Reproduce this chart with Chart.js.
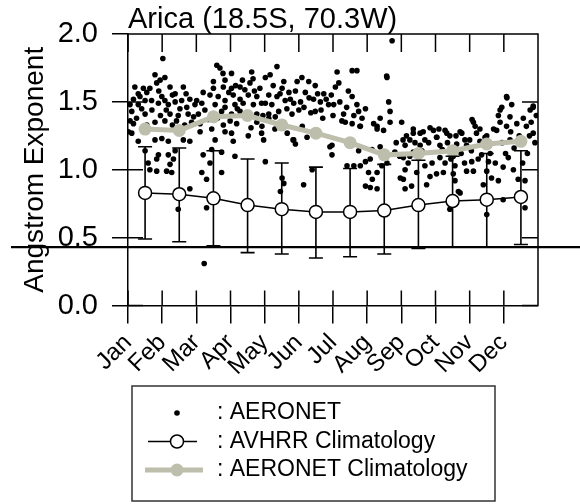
<!DOCTYPE html>
<html>
<head>
<meta charset="utf-8">
<script src="https://cdn.jsdelivr.net/npm/chart.js@4.4.1/dist/chart.umd.min.js"></script>
<style>
  html, body { margin: 0; padding: 0; background: #fff; }
</style>
</head>
<body>
<canvas id="myChart" width="580" height="504"></canvas>
<script>
// monthly climatologies are plotted at mid-month (0 = start of Jan)
const months = ['Jan', 'Feb', 'Mar', 'Apr', 'May', 'Jun', 'Jul', 'Aug', 'Sep', 'Oct', 'Nov', 'Dec'];
const climMonth = [0.5, 1.5, 2.5, 3.5, 4.5, 5.5, 6.5, 7.5, 8.5, 9.5, 10.5, 11.5];
const yTicks = [0, 0.5, 1.0, 1.5, 2.0];

const avhrrMean = [0.83, 0.82, 0.79, 0.74, 0.71, 0.69, 0.69, 0.70, 0.74, 0.77, 0.78, 0.80];
const avhrrLow  = [0.49, 0.47, 0.44, 0.39, 0.38, 0.35, 0.36, 0.38, 0.42, 0.43, 0.43, 0.45];
const avhrrHigh = [1.17, 1.16, 1.14, 1.08, 1.05, 1.02, 1.01, 1.04, 1.07, 1.10, 1.12, 1.14];

const aeronetClim = [1.30, 1.29, 1.39, 1.40, 1.33, 1.27, 1.20, 1.11, 1.12, 1.14, 1.19, 1.21];

// individual AERONET observations: [month position, angstrom exponent]
const aeronetObs = [
  [1.02,1.82],[2.60,1.77],[2.69,1.75],[2.78,1.71],[3.03,1.71],[0.79,1.70],[1.08,1.68],[0.94,1.66],
  [0.84,1.64],[3.62,1.72],[3.66,1.67],[3.57,1.64],[2.50,1.65],[2.84,1.66],[2.79,1.61],[0.20,1.61],
  [0.45,1.60],[0.30,1.56],[0.64,1.60],[1.23,1.61],[1.62,1.61],[1.38,1.56],[3.03,1.60],[3.28,1.61],
  [3.42,1.59],[3.86,1.60],[0.16,1.52],[0.35,1.54],[0.50,1.51],[0.69,1.51],[0.99,1.54],[1.08,1.51],
  [1.38,1.50],[1.57,1.51],[1.81,1.52],[2.01,1.51],[2.40,1.55],[2.64,1.54],[2.84,1.51],[3.08,1.55],
  [3.28,1.52],[3.52,1.55],[3.77,1.54],[0.06,1.48],[0.30,1.48],[0.89,1.49],[1.18,1.48],[1.52,1.45],
  [1.72,1.46],[1.96,1.48],[2.16,1.49],[2.55,1.48],[2.84,1.46],[3.13,1.48],[3.37,1.49],[3.67,1.48],
  [3.91,1.49],[0.11,1.43],[0.50,1.41],[1.23,1.41],[1.47,1.40],[1.76,1.41],[2.06,1.41],[2.25,1.44],
  [2.74,1.43],[3.03,1.41],[3.28,1.43],[3.77,1.41],[0.06,1.36],[0.16,1.34],[0.79,1.35],[1.08,1.36],
  [1.86,1.35],[2.11,1.34],[2.79,1.33],[2.99,1.36],[3.18,1.34],[3.77,1.35],[0.01,1.28],[0.11,1.27],
  [2.11,1.28],[2.84,1.28],[3.03,1.27],[3.52,1.25],[3.91,1.27],[0.30,1.21],[0.79,1.22],[0.99,1.23],
  [1.18,1.21],[1.62,1.22],[1.81,1.21],[2.55,1.22],[3.08,1.21],
  [0.50,1.14],[0.89,1.11],[0.59,1.05],[0.84,1.08],[0.64,1.00],[0.84,0.99],[1.13,0.99],[1.28,0.98],
  [1.23,1.04],[1.33,1.08],[1.38,1.14],[1.18,1.11],[1.81,0.86],[1.47,0.71],[2.20,1.11],[2.40,1.05],
  [2.16,0.98],[2.30,0.93],[2.74,1.13],[2.74,0.98],[2.45,1.15],[2.30,0.72],[3.13,1.10],[2.23,0.31],
  [4.36,1.76],[4.02,1.68],[4.16,1.70],[4.56,1.65],[4.51,1.60],[4.71,1.57],[4.12,1.55],[4.36,1.54],
  [4.02,1.49],[4.21,1.48],[4.60,1.51],[4.85,1.49],[4.12,1.41],[4.41,1.43],[4.80,1.41],[5.00,1.44],
  [5.09,1.68],[4.95,1.65],[5.29,1.65],[5.48,1.62],[5.19,1.57],[5.43,1.52],[5.63,1.50],[5.73,1.56],
  [5.48,1.43],[5.87,1.48],[6.02,1.48],[6.12,1.72],[6.17,1.64],[6.07,1.61],[6.56,1.73],[6.70,1.73],
  [6.56,1.54],[6.70,1.48],[6.31,1.41],[6.61,1.40],[6.75,1.43],[6.36,1.35],[6.56,1.34],[6.80,1.32],
  [6.26,1.36],[7.58,1.68],[7.73,1.95],[7.63,1.50],[7.67,1.43],[7.67,1.35],[7.19,1.34],[7.29,1.32],
  [7.48,1.29],[3.92,1.32],[4.12,1.38],[4.31,1.39],[4.66,1.27],[4.85,1.22],[4.90,1.19],[5.24,1.24],
  [5.97,1.18],[3.97,1.22],
  [4.02,1.06],[4.51,0.94],[4.56,0.90],[4.46,0.84],[5.14,0.89],[5.39,1.00],[5.97,1.11],[6.41,1.03],
  [6.61,1.03],[6.80,1.03],[6.95,1.06],[7.09,1.08],[7.04,0.98],[7.29,0.98],[7.15,0.93],[6.95,0.88],
  [7.09,0.87],[7.29,0.86],[6.75,1.14],[7.58,1.05],[7.43,1.03],[7.97,0.94],
  [8.01,1.35],[11.08,1.54],[10.94,1.46],[11.23,1.48],[10.84,1.40],[10.89,1.35],[11.08,1.32],[10.79,1.29],
  [11.38,1.34],[11.57,1.38],[11.77,1.44],[11.86,1.46],[11.66,1.32],[11.86,1.27],[10.11,1.35],[10.20,1.27],
  [9.77,1.27],[9.86,1.22],[9.28,1.29],[9.42,1.25],[8.94,1.29],[9.03,1.24],[8.64,1.28],[8.69,1.22],
  [8.35,1.27],[8.25,1.22],[8.11,1.18],[10.45,1.24],[10.30,1.21],[10.59,1.19],[11.18,1.22],[9.62,1.19],
  [9.91,1.18],[8.55,1.18],[9.13,1.18],
  [8.06,1.09],[8.25,1.10],[8.11,1.00],[8.06,0.93],[8.30,0.88],[8.11,0.86],[8.69,1.03],[8.84,0.95],
  [9.03,0.97],[9.23,0.98],[8.74,0.89],[9.13,1.09],[9.28,1.05],[9.52,1.10],[9.57,1.03],[9.52,0.97],
  [9.57,0.92],[9.67,0.84],[9.91,0.99],[10.11,0.99],[10.06,1.06],[10.35,1.11],[10.55,1.06],[10.50,0.99],
  [10.64,0.94],[10.84,0.92],[10.40,0.89],[10.98,1.02],[11.13,1.09],[11.28,1.00],[11.42,0.93],[11.62,0.92],
  [10.98,0.78],[11.62,0.72],[10.50,0.67],[9.42,0.71],[9.72,0.83],[8.35,1.13],[8.50,1.09],
  [8.05,1.22],[8.35,1.30],[8.55,1.27],[8.84,1.31],[9.04,1.24],[9.33,1.27],[9.72,1.28],[10.07,1.37],
  [10.16,1.32],[10.39,1.20],[11.09,1.53],[10.89,1.44],[11.18,1.39],[11.86,1.47],[11.91,1.20],[11.69,1.12],
  [5.91,1.17],[6.79,1.32],[4.83,1.22],[7.57,1.69],[7.29,1.30],[7.38,1.38],[7.14,1.15],[7.38,1.17],[7.81,1.13],
  [0.25,1.38],[0.40,1.45],[0.55,1.33],[0.70,1.44],[0.95,1.40],[1.12,1.44],[1.30,1.33],[1.42,1.36],
  [1.66,1.33],[1.92,1.39],[2.35,1.37],[2.45,1.30],[2.62,1.38],[3.20,1.45],[3.45,1.38],[3.60,1.31],
  [3.95,1.40],[0.55,1.57],[0.90,1.58],[1.30,1.55],[1.70,1.56],[2.20,1.57],[2.50,1.60],[2.95,1.57],
  [3.15,1.62],[3.70,1.58],[3.35,1.66],
  [4.25,1.62],[4.45,1.56],[4.65,1.45],[4.75,1.52],[4.90,1.58],[5.05,1.50],[5.15,1.46],[5.30,1.53],
  [5.35,1.42],[5.55,1.56],[5.65,1.44],[5.80,1.52],[5.95,1.55],[6.20,1.50],[6.40,1.46],[6.45,1.58],
  [6.85,1.38],[6.95,1.45],[4.30,1.30],[4.55,1.35],[5.10,1.32],[5.70,1.38],[6.00,1.40],
  [7.85,1.20],[7.95,1.10],[8.15,1.25],[8.20,1.05],[8.40,1.20],[8.45,0.98],[8.60,1.14],[8.80,1.20],
  [8.90,1.05],[9.10,1.30],[9.20,1.15],[9.35,1.20],[9.45,1.08],[9.60,1.25],[9.75,1.12],[9.85,1.05],
  [10.00,1.22],[10.05,1.14],[10.25,1.08],[10.30,1.30],[10.50,1.25],[10.60,1.12],[10.70,1.30],[10.75,1.05],
  [10.95,1.20],[11.05,1.12],[11.20,1.28],[11.30,1.16],[11.45,1.25],[11.55,1.05],[11.75,1.25],[11.80,1.35],
  [11.95,1.40]
];

const FONT = '"Liberation Sans", Arial, Helvetica, sans-serif';
const GREY = 'rgb(190, 190, 172)';

// error bars of the AVHRR climatology, drawn just under its circles
const errorBars = {
  id: 'errorBars',
  beforeDatasetDraw(chart, args) {
    if (args.index !== 0) return;
    const { ctx, scales: { x, y } } = chart;
    ctx.save();
    ctx.strokeStyle = '#000';
    ctx.lineWidth = 1.6;
    climMonth.forEach((m, i) => {
      const px = x.getPixelForValue(m);
      const lo = y.getPixelForValue(avhrrLow[i]);
      const hi = y.getPixelForValue(avhrrHigh[i]);
      ctx.beginPath();
      ctx.moveTo(px, lo); ctx.lineTo(px, hi);
      ctx.moveTo(px - 7, lo); ctx.lineTo(px + 7, lo);
      ctx.moveTo(px - 7, hi); ctx.lineTo(px + 7, hi);
      ctx.stroke();
    });
    ctx.restore();
  }
};

// box frame with inward ticks, title, legend and the stray rule line
const decorations = {
  id: 'decorations',
  afterDraw(chart) {
    const { ctx, chartArea: a, scales: { x, y } } = chart;
    ctx.save();
    ctx.strokeStyle = '#000';
    ctx.lineWidth = 1.5;
    ctx.beginPath();
    ctx.moveTo(a.left, a.top); ctx.lineTo(a.right, a.top); ctx.lineTo(a.right, a.bottom);
    yTicks.forEach(v => {
      const py = y.getPixelForValue(v);
      ctx.moveTo(a.left, py); ctx.lineTo(a.left + 15, py);
      ctx.moveTo(a.right - 16, py); ctx.lineTo(a.right, py);
    });
    months.forEach((m, i) => {
      const px = x.getPixelForValue(i);
      ctx.moveTo(px, a.top); ctx.lineTo(px, a.top + 18);
      ctx.moveTo(px, a.bottom); ctx.lineTo(px, a.bottom - 15);
    });
    ctx.stroke();

    // title
    ctx.fillStyle = '#000';
    ctx.font = '29px ' + FONT;
    ctx.textAlign = 'left';
    ctx.textBaseline = 'alphabetic';
    ctx.fillText('Arica (18.5S, 70.3W)', a.left, 28);

    // stray horizontal rule across the figure
    const ry = y.getPixelForValue(0.43);
    ctx.lineWidth = 2.2;
    ctx.beginPath();
    ctx.moveTo(11, ry); ctx.lineTo(chart.width, ry);
    ctx.stroke();

    // legend
    const lg = { left: 132, top: 386, right: 495, bottom: 501 };
    ctx.strokeStyle = '#333';
    ctx.lineWidth = 1.5;
    ctx.strokeRect(lg.left, lg.top, lg.right - lg.left, lg.bottom - lg.top);
    const rows = [413, 441.5, 470];
    const sx = 177;
    ctx.fillStyle = '#000';
    ctx.beginPath(); ctx.arc(sx, rows[0], 2.8, 0, Math.PI * 2); ctx.fill();

    ctx.strokeStyle = '#000';
    ctx.lineWidth = 1.5;
    ctx.beginPath(); ctx.moveTo(148, rows[1]); ctx.lineTo(197, rows[1]); ctx.stroke();
    ctx.fillStyle = '#fff';
    ctx.beginPath(); ctx.arc(sx, rows[1], 6.5, 0, Math.PI * 2); ctx.fill(); ctx.stroke();

    ctx.strokeStyle = GREY;
    ctx.lineWidth = 5;
    ctx.beginPath(); ctx.moveTo(145, rows[2]); ctx.lineTo(203, rows[2]); ctx.stroke();
    ctx.fillStyle = GREY;
    ctx.beginPath(); ctx.arc(sx, rows[2], 6.5, 0, Math.PI * 2); ctx.fill();

    ctx.fillStyle = '#000';
    ctx.font = '23px ' + FONT;
    ctx.textBaseline = 'middle';
    const names = chart.data.datasets.map(d => d.label);
    ctx.fillText(': ' + names[2], 217, rows[0]);
    ctx.fillText(': ' + names[0], 217, rows[1]);
    ctx.fillText(': ' + names[1], 217, rows[2]);
    ctx.restore();
  }
};

const ctx = document.getElementById('myChart').getContext('2d');
const myChart = new Chart(ctx, {
  type: 'scatter',
  data: {
    datasets: [
      {
        label: 'AVHRR Climatology',
        type: 'line',
        data: climMonth.map((m, i) => ({ x: m, y: avhrrMean[i] })),
        borderColor: '#000',
        borderWidth: 1.5,
        pointRadius: 6.5,
        pointBackgroundColor: '#fff',
        pointBorderColor: '#000',
        pointBorderWidth: 1.5,
        tension: 0,
        order: 0
      },
      {
        label: 'AERONET Climatology',
        type: 'line',
        data: climMonth.map((m, i) => ({ x: m, y: aeronetClim[i] })),
        borderColor: GREY,
        borderWidth: 5,
        pointRadius: 6.5,
        pointBackgroundColor: GREY,
        pointBorderWidth: 0,
        tension: 0,
        order: 1
      },
      {
        label: 'AERONET',
        data: aeronetObs.map(p => ({ x: p[0], y: p[1] })),
        backgroundColor: '#000',
        borderWidth: 0,
        pointRadius: 2.8,
        order: 2
      }
    ]
  },
  options: {
    responsive: false,
    animation: false,
    events: [],
    layout: { padding: { top: 34, right: 42, bottom: 118.4, left: 0 } },
    plugins: {
      legend: { display: false },
      tooltip: { enabled: false }
    },
    scales: {
      x: {
        type: 'linear',
        min: 0,
        max: 12,
        afterBuildTicks: s => { s.ticks = months.map((m, i) => ({ value: i })); },
        afterFit: s => { s.height = 80; },
        ticks: {
          autoSkip: false,
          minRotation: 45,
          maxRotation: 45,
          padding: 5,
          color: '#000',
          font: { family: FONT, size: 24 },
          callback: v => months[v]
        },
        grid: { drawOnChartArea: false, drawTicks: true, tickLength: 18, color: '#000', lineWidth: 1.5 },
        border: { display: true, color: '#000', width: 1.5 }
      },
      y: {
        min: 0,
        max: 2,
        afterBuildTicks: s => { s.ticks = yTicks.map(v => ({ value: v })); },
        afterFit: s => { s.width = 128; },
        ticks: {
          padding: 14,
          color: '#000',
          font: { family: FONT, size: 29 },
          callback: v => v.toFixed(1)
        },
        grid: { drawOnChartArea: false, drawTicks: true, tickLength: 16, color: '#000', lineWidth: 1.5 },
        border: { display: true, color: '#000', width: 1.5 },
        title: {
          display: true,
          text: 'Angstrom Exponent',
          color: '#000',
          font: { family: FONT, size: 28 },
          padding: { top: 18, bottom: 0 }
        }
      }
    }
  },
  plugins: [errorBars, decorations]
});
</script>
</body>
</html>
